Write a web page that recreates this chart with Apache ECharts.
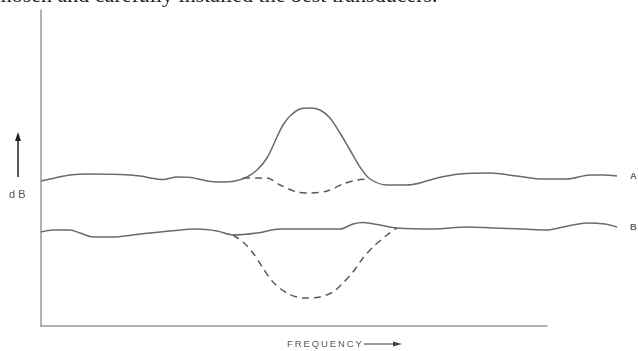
<!DOCTYPE html>
<html><head><meta charset="utf-8">
<script src="https://cdn.jsdelivr.net/npm/echarts@6/dist/echarts.min.js"></script>
<style>html,body{margin:0;padding:0;background:#fff}#c{width:638px;height:351px}</style>
</head><body><div id="c"></div>
<script>
// Frequency (arbitrary units) and level (arbitrary dB units)
const freqA = [0,14,29,46,79,99,109,122,136,150,166,179,194,206,216,226,236,242,249,259,269,279,289,299,309,319,329,346,366,379,396,419,449,476,502,526,549,562,576];
const levelA = [145,148,151,152,151.5,150,148,146.5,149,148.5,145,144,145,149,156,168,189,201,210,217,218,216,208,193,176,159,147,141,141,143,148,152,153,150,147,147,151,151,150];
const freqAd = [202,216,226,239,256,269,286,302,316,326];
const levelAd = [148,148,148,141,134,133,135,142,146,147];
const freqB = [0,12,29,39,52,72,99,129,156,176,192,216,239,269,299,312,322,339,356,392,426,452,482,506,522,546,564,576];
const levelB = [94,96,96,93,89,89,92,95,97,95,91,93,97,97,97,102,103.5,101,98,97,99,98,97,96,99,103,102,99];
const freqBd = [192,202,212,222,232,246,262,279,292,302,312,322,332,346,356];
const levelBd = [91,84,73,58,44,33,28,29,34,43,54,68,79,91,98];
const curveLabels = ['A','B'];
const axisFreqMax = 506, plotFreqMax = 580, levelMax = 316;

function pts(xs, ys) { return xs.map((x, i) => [x, ys[i]]); }
function endLab(t) {
  return { show: true, formatter: t, distance: 13, color: '#666', fontSize: 9.5,
    fontFamily: 'Liberation Sans', fontWeight: 'bold' };
}
const solid = { color: '#6a6a6a', width: 1.5 };
const dashed = { color: '#5a5a5a', width: 1.5, type: [7, 5] };
const hiddenAxis = { show: false };
const common = { axisTick: { show: false }, axisLabel: { show: false }, splitLine: { show: false } };

const chart = echarts.init(document.getElementById('c'), null, { renderer: 'canvas' });
chart.setOption({
  animation: false,
  backgroundColor: '#fff',
  grid: [
    { left: 41, top: 10, width: 506, height: 316 },
    { left: 41, top: 10, width: 580, height: 316 }
  ],
  xAxis: [
    Object.assign({ type: 'value', gridIndex: 0, min: 0, max: axisFreqMax,
      axisLine: { show: true, lineStyle: { color: '#999', width: 1.5 } } }, common),
    Object.assign({ type: 'value', gridIndex: 1, min: 0, max: plotFreqMax, axisLine: hiddenAxis }, common)
  ],
  yAxis: [
    Object.assign({ type: 'value', gridIndex: 0, min: 0, max: levelMax,
      axisLine: { show: true, lineStyle: { color: '#999', width: 1.5 } } }, common),
    Object.assign({ type: 'value', gridIndex: 1, min: 0, max: levelMax, axisLine: hiddenAxis }, common)
  ],
  series: [
    { type: 'line', xAxisIndex: 1, yAxisIndex: 1, data: pts(freqA, levelA), smooth: 0.3, symbol: 'none', clip: false, lineStyle: solid, endLabel: endLab(curveLabels[0]) },
    { type: 'line', xAxisIndex: 1, yAxisIndex: 1, data: pts(freqAd, levelAd), smooth: 0.3, symbol: 'none', clip: false, lineStyle: dashed },
    { type: 'line', xAxisIndex: 1, yAxisIndex: 1, data: pts(freqB, levelB), smooth: 0.3, symbol: 'none', clip: false, lineStyle: solid, endLabel: endLab(curveLabels[1]) },
    { type: 'line', xAxisIndex: 1, yAxisIndex: 1, data: pts(freqBd, levelBd), smooth: 0.3, symbol: 'none', clip: false, lineStyle: dashed }
  ],
  graphic: [
    { type: 'text', left: -9, top: -15, style: { text: 'chosen and carefully installed the best transducers.',
      font: '22px "Liberation Serif"', fill: '#222' } },
    { type: 'line', shape: { x1: 18, y1: 177, x2: 18, y2: 140 }, style: { stroke: '#222', lineWidth: 1.5 } },
    { type: 'polygon', shape: { points: [[15, 141], [21, 141], [18, 132]] }, style: { fill: '#222' } },
    { type: 'text', left: 9, top: 189, style: { text: 'd B', font: '11px "Liberation Sans"', fill: '#555' } },
    { type: 'text', left: 287, top: 339, style: { text: 'F\u2009R\u2009E\u2009Q\u2009U\u2009E\u2009N\u2009C\u2009Y', font: '9.5px "Liberation Sans"', fill: '#555' } },
    { type: 'line', shape: { x1: 364, y1: 344, x2: 396, y2: 344 }, style: { stroke: '#555', lineWidth: 1.2 } },
    { type: 'polygon', shape: { points: [[393, 341.5], [393, 346.5], [402, 344]] }, style: { fill: '#444' } }
  ]
});
</script></body></html>
